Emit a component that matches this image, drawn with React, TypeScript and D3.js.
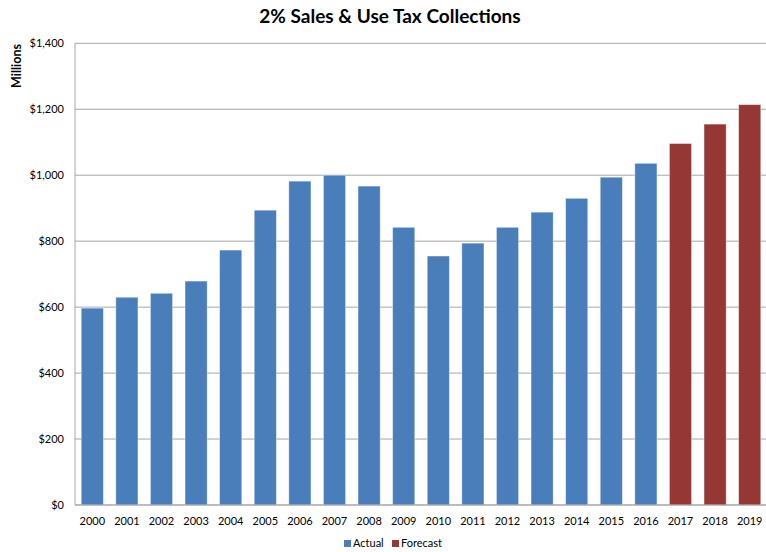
import React from "react";
import * as d3 from "d3";

const years = ["2000","2001","2002","2003","2004","2005","2006","2007","2008","2009","2010","2011","2012","2013","2014","2015","2016","2017","2018","2019"];
const values = [597,630,642,679,773,894,982,1000,967,842,755,794,842,888,930,994,1036,1096,1155,1214];
const seriesType = ["Actual","Actual","Actual","Actual","Actual","Actual","Actual","Actual","Actual","Actual","Actual","Actual","Actual","Actual","Actual","Actual","Actual","Forecast","Forecast","Forecast"];
const yTicks = [0,200,400,600,800,1000,1200,1400];
const legendItems = ["Actual","Forecast"];
const colors: Record<string,string> = { Actual: "#4a7ebb", Forecast: "#953735" };

const W = 766, H = 552;
const left = 75, right = 767, top = 43.3, bottom = 505;
const FONT = "Lato, 'Open Sans', sans-serif";

export default function App() {
  const x = d3.scaleBand().domain(years).range([left, right]).paddingInner(0.36).paddingOuter(0.18);
  const y = d3.scaleLinear().domain([0, 1400]).range([bottom, top]);
  const fmt = (v: number) => "$" + d3.format(",")(v);
  return (
    <svg width={W} height={H} style={{ position: "absolute", left: 0, top: 0, background: "#fff" }} fontFamily={FONT}>
      <text x={390} y={23} textAnchor="middle" fontSize={19} fontWeight="bold" fill="#000">2% Sales &amp; Use Tax Collections</text>
      <text transform={`translate(21,66) rotate(-90)`} textAnchor="middle" fontSize={12.5} fontWeight="bold" fill="#000">Millions</text>
      {yTicks.map((t) => (
        <g key={t}>
          <line x1={left} x2={W} y1={y(t)} y2={y(t)} stroke="#a6a6a6" strokeWidth={1} />
          <text x={64} y={y(t)} dy="0.35em" textAnchor="end" fontSize={11} fill="#000">{fmt(t)}</text>
        </g>
      ))}
      <line x1={left} x2={left} y1={top} y2={bottom} stroke="#a6a6a6" strokeWidth={1} />
      {years.map((yr, i) => (
        <rect key={yr} x={x(yr)} y={y(values[i])} width={x.bandwidth()} height={bottom - y(values[i])}
          fill={colors[seriesType[i]]} stroke="#ffffff" strokeOpacity={0.5} strokeWidth={0.8} />
      ))}
      <line x1={left} x2={W} y1={bottom} y2={bottom} stroke="#a6a6a6" strokeWidth={1.2} />
      {years.map((yr) => (
        <text key={yr} x={(x(yr) as number) + x.bandwidth() / 2} y={525} textAnchor="middle" fontSize={11} fill="#000">{yr}</text>
      ))}
      {legendItems.map((item, i) => {
        const lx = i === 0 ? 344 : 392;
        return (
          <g key={item}>
            <rect x={lx} y={540} width={7} height={7} fill={colors[item]} />
            <text x={lx + 9} y={547} fontSize={11} fill="#000">{item}</text>
          </g>
        );
      })}
    </svg>
  );
}
